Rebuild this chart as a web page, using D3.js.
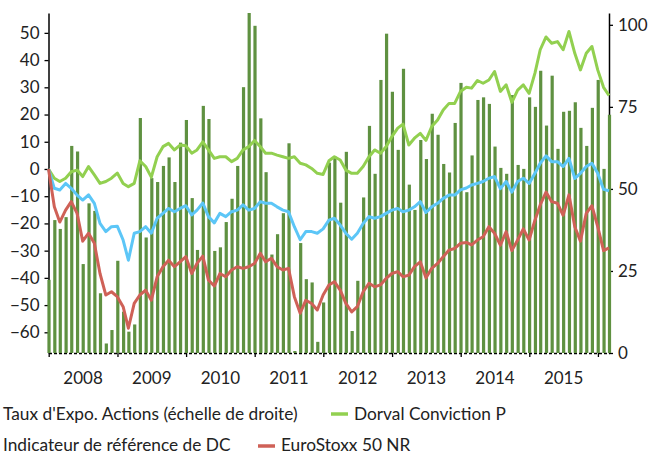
<!DOCTYPE html>
<html>
<head>
<meta charset="utf-8">
<script src="https://cdn.jsdelivr.net/npm/d3@7"></script>
<style>
body{margin:0;background:#fff;}
svg{display:block;font-family:Lato,"Open Sans",sans-serif;}
</style>
</head>
<body>
<div class="chart"></div>
<script>
// taux d'expo actions, fin de mois, dec 2007 -> fev 2016 (echelle de droite)
var expo=[22.3,40.5,37.8,41.4,63.1,61.4,27.1,45.6,43.3,18.2,2.9,7.0,28.1,12.6,6.5,8.7,71.6,35.2,53.3,52.1,57.0,59.6,52.1,64.1,71.0,
	47.2,31.4,75.3,71.3,31.1,32.2,39.9,47.0,57.0,81.0,106,99.7,71.5,55.1,30,36.2,42.6,63.9,0.6,33.5,22.5,21.5,3.4,15.4,
	58.0,59.9,45.8,61.3,6.7,22.0,47.4,69.2,54.6,83.2,97.3,79.6,61.9,86.6,51.3,43.6,64.9,59.1,72.9,66.5,57.6,55.0,70.1,82.3,
	49,60.2,77.1,77.9,75.9,62.9,56.4,54.6,78.6,57.3,56.1,77.9,75.0,86.0,69.3,84.5,62.2,73.5,73.8,76.4,68.6,63.1,74.7,83.2,56.1,72.6];
// performances cumulees en %
var dorval=[0,-3.4,-4.6,-3.4,-1.0,-0.4,-2.8,0.9,-2.2,-5.3,-4.6,-3.4,-1.5,-5.3,-6.5,-5.3,3.0,0.9,-3.0,4.5,8.2,9.4,7.0,8.8,8.5,
	5.8,7.0,10.0,7.0,3.9,4.5,4.5,2.7,3.9,7.0,8.2,10.5,8.2,5.8,5.8,5.1,4.5,3.9,4.5,2.1,1.5,0.2,-1.6,-2.0,
	3.0,4.5,3.3,-0.4,-1.6,-1.6,0.9,4.5,7.0,5.8,8.2,11.9,15.0,16.5,8.8,11.3,13.1,10.5,15.6,18.0,21.7,24.1,24.1,28.5,
	30.0,29.7,32.5,31.5,32.7,35.8,28.5,30.9,24.5,29.0,30.9,27.8,35.2,43.8,48.5,46.2,46.8,43.8,50.5,42.5,36.4,42.5,45.0,36.4,30.0,27.0];
var indicateur=[0,-7.1,-7.7,-5.3,-7.1,-9.6,-11.4,-9.5,-12.6,-20.0,-23.0,-21.2,-21.0,-26.1,-33.5,-23.6,-23.0,-21.2,-23.6,-18.1,-16.3,-14.5,-15.7,-14.5,-13.5,
	-16.9,-15.1,-12.5,-17.5,-19.8,-16.3,-17.5,-15.7,-15.1,-13.2,-15.1,-14.5,-12.0,-12.6,-12.6,-13.9,-15.1,-15.7,-21.2,-26.0,-23.0,-23.0,-23.6,-22.0,
	-18.8,-18.1,-20.6,-23.6,-25.8,-23.6,-20.0,-17.5,-18.1,-17.5,-16.3,-15.1,-14.5,-15.7,-15.1,-13.9,-12.0,-16.0,-13.9,-12.6,-10.8,-9.6,-9.6,-7.7,
	-7.0,-5.9,-5.3,-4.6,-3.4,-2.8,-7.2,-4.6,-8.5,-4.6,-3.4,-5.3,-1.6,2.1,4.8,2.7,2.7,0.9,3.9,-3.5,-1.6,0.9,2.1,-1.6,-7.5,-8.0];
var eurostoxx=[0,-13.9,-19.5,-15.1,-12.0,-16.3,-26.5,-23.6,-27.3,-38.4,-46.3,-45.1,-46.9,-50.6,-58.5,-49.4,-46.3,-44.5,-48.2,-39.6,-35.9,-33.5,-35.9,-34.1,-32.2,
	-38.4,-34.7,-32.0,-40.8,-43.0,-38.4,-39.6,-37.1,-35.9,-36.5,-35.9,-34.7,-31.0,-34.1,-32.8,-35.9,-37.1,-36.5,-46.9,-53.0,-48.2,-49.4,-51.8,-46.3,
	-42.6,-41.4,-44.5,-49.4,-52.5,-50.6,-45.1,-42.0,-43.3,-42.6,-40.2,-38.4,-37.7,-39.6,-39.0,-35.9,-34.1,-40.0,-36.5,-34.7,-32.2,-29.8,-29.2,-27.3,
	-27.0,-27.9,-26.1,-24.9,-21.2,-23.6,-28.0,-23.0,-30.0,-26.1,-22.0,-26.1,-18.8,-13.2,-8.5,-12.0,-12.6,-17.0,-9.5,-21.2,-26.5,-16.3,-13.5,-21.2,-30.0,-29.0];
var leftTicks=[-60,-50,-40,-30,-20,-10,0,10,20,30,40,50];
var rightTicks=[0,25,50,75,100];
var years=[2008,2009,2010,2011,2012,2013,2014,2015];

// dates de fin de mois
var dates=expo.map(function(d,i){
	return d3.timeDay.offset(d3.timeMonth.offset(new Date(2008,0,1),i),-1);
});

var width=650,height=454;
var plotL=48.5,plotR=609,plotT=13,plotB=353;
var svg=d3.select('div.chart').append('svg')
	.attr('width',width)
	.attr('height',height);

var xScale=d3.scaleTime()
	.domain([dates[0],dates[dates.length-1]])
	.range([plotL,plotR]);
var yLeft=d3.scaleLinear().domain([-67.6,57.3]).range([plotB,plotT]);
var yRight=d3.scaleLinear().domain([0,103.6]).range([plotB,plotT]);

svg.append('clipPath').attr('id','plot')
	.append('rect').attr('x',0).attr('y',plotT).attr('width',width).attr('height',plotB-plotT);

var textColor='#222';

//axes
var axL=svg.append('g')
	.attr('transform','translate('+plotL+',0)')
	.call(d3.axisLeft(yLeft).tickValues(leftTicks).tickSize(4).tickPadding(5).tickSizeOuter(0));
var axR=svg.append('g')
	.attr('transform','translate('+plotR+',0)')
	.call(d3.axisRight(yRight).tickValues(rightTicks).tickSize(4).tickPadding(5).tickSizeOuter(0));
var yearTicks=years.map(function(y){return new Date(y,0,1);}).concat([new Date(2016,0,1)]);
var axB=svg.append('g')
	.attr('transform','translate(0,'+plotB+')')
	.call(d3.axisBottom(xScale).tickValues(yearTicks).tickSize(4).tickFormat('').tickSizeOuter(0));
[axL,axR,axB].forEach(function(a){
	a.select('.domain').attr('stroke','#000').attr('stroke-width',1.5);
	a.selectAll('.tick line').attr('stroke','#000').attr('stroke-width',1.3);
	a.selectAll('text').attr('fill',textColor).attr('font-size','17px').attr('font-family','Lato');
});
axB.select('.domain').attr('stroke-dasharray','3,2');

// annees centrees entre les graduations
svg.append('g').selectAll('text')
	.data(years)
	.enter()
	.append('text')
	.attr('x',function(y){return (xScale(new Date(y,0,1))+xScale(new Date(y+1,0,1)))/2;})
	.attr('y',384)
	.attr('text-anchor','middle')
	.attr('font-size','17px')
	.attr('fill',textColor)
	.text(function(y){return y;});

//barres
svg.append('g')
	.attr('clip-path','url(#plot)')
	.selectAll('rect')
	.data(expo)
	.enter()
	.append('rect')
	.attr('x',function(d,i){return xScale(dates[i])-1.1;})
	.attr('y',function(d){return yRight(d);})
	.attr('width',3.2)
	.attr('height',function(d){return plotB-yRight(d);})
	.attr('fill','#5F9141');

//courbes
var series=[
	{name:'Dorval Conviction P',values:dorval,color:'#92D050'},
	{name:'Indicateur de référence de DC',values:indicateur,color:'#5CC6F7'},
	{name:'EuroStoxx 50 NR',values:eurostoxx,color:'#CF6157'}
];
var line=d3.line()
	.x(function(d,i){return xScale(dates[i]);})
	.y(function(d){return yLeft(d);});
svg.append('g').selectAll('path')
	.data(series)
	.enter()
	.append('path')
	.attr('d',function(s){return line(s.values);})
	.attr('fill','none')
	.attr('stroke',function(s){return s.color;})
	.attr('stroke-width',3)
	.attr('stroke-linejoin','round');

//legende
var leg=svg.append('g').attr('font-size','17.3px').attr('fill',textColor);
leg.append('text').attr('x',3).attr('y',420).text("Taux d'Expo. Actions (échelle de droite)");
leg.append('line').attr('x1',331).attr('x2',348).attr('y1',414).attr('y2',414).attr('stroke','#92D050').attr('stroke-width',3.5);
leg.append('text').attr('x',354).attr('y',420).text('Dorval Conviction P');
leg.append('text').attr('x',3).attr('y',451).text('Indicateur de référence de DC');
leg.append('line').attr('x1',258).attr('x2',275).attr('y1',446).attr('y2',446).attr('stroke','#CF6157').attr('stroke-width',3.5);
leg.append('text').attr('x',281).attr('y',451).text('EuroStoxx 50 NR');
</script>
</body>
</html>
